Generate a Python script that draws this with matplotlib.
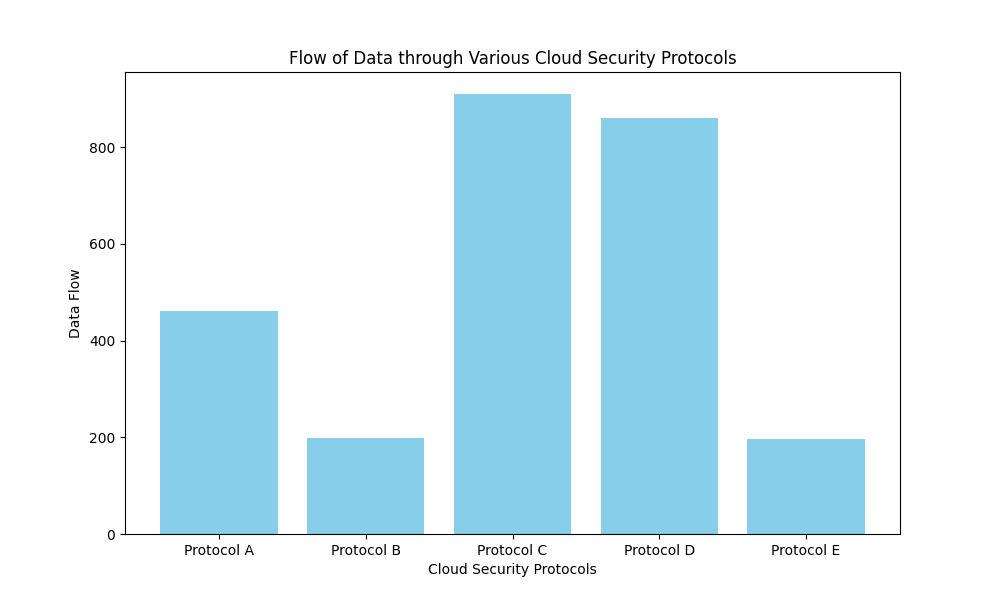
import matplotlib
matplotlib.use("Agg")
import matplotlib.pyplot as plt

# Data
protocols = ["Protocol A", "Protocol B", "Protocol C", "Protocol D", "Protocol E"]
data_flow = [461, 198, 910, 860, 196]

plt.figure(figsize=(10, 6))
plt.bar(protocols, data_flow, color="skyblue")
plt.title("Flow of Data through Various Cloud Security Protocols")
plt.xlabel("Cloud Security Protocols")
plt.ylabel("Data Flow")

plt.savefig("out.png", dpi=100)
